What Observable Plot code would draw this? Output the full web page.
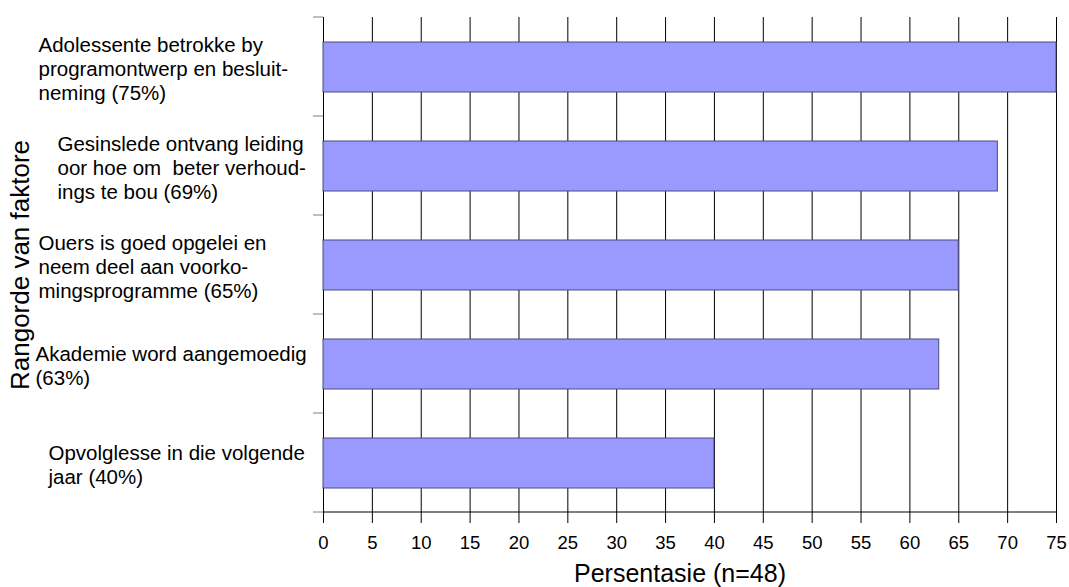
<!DOCTYPE html>
<html><head><meta charset="utf-8">
<script src="https://cdn.jsdelivr.net/npm/d3@7"></script>
<script src="https://cdn.jsdelivr.net/npm/@observablehq/plot@0.6"></script>
<style>body{margin:0;background:#fff} svg{display:block}</style>
</head><body><div id="chart"></div>
<script>
// ---- data ----
const categories = [
  "Adolessente betrokke by\nprogramontwerp en besluit-\nneming (75%)",
  "Gesinslede ontvang leiding\noor hoe om  beter verhoud-\nings te bou (69%)",
  "Ouers is goed opgelei en\nneem deel aan voorko-\nmingsprogramme (65%)",
  "Akademie word aangemoedig\n(63%)",
  "Opvolglesse in die volgende\njaar (40%)"
];
const values = [75, 69, 65, 63, 40];
const xTicks = [0, 5, 10, 15, 20, 25, 30, 35, 40, 45, 50, 55, 60, 65, 70, 75];
const xLabel = "Persentasie (n=48)";
const yLabel = "Rangorde van faktore";

// ---- layout ----
const W = 1069, H = 587;
const M = {top: 17, right: 13, bottom: 75, left: 323};
const labelLeft = [38, 57, 38, 35, 48]; // pixel x where each label block starts
const font = "'Liberation Sans', Arial, sans-serif";

const rows = categories.map((c, i) => ({cat: c, value: values[i]}));

const frameLines = (index, scales, vals, dims) => {
  const g = d3.create("svg:g");
  const n = categories.length;
  const top = dims.marginTop, bottom = dims.height - dims.marginBottom;
  const left = dims.marginLeft, right = dims.width - dims.marginRight;
  const step = (bottom - top) / n;
  for (let i = 0; i <= n; i++) {
    const yy = top + i * step;
    g.append("line").attr("x1", left - 10).attr("x2", left).attr("y1", yy).attr("y2", yy)
      .attr("stroke", "#808080").attr("stroke-width", 1);
  }
  g.append("line").attr("x1", left).attr("x2", right).attr("y1", bottom).attr("y2", bottom)
    .attr("stroke", "#000").attr("stroke-width", 1);
  return g.node();
};

const labelMarks = rows.map((r, i) => Plot.text([r], {
  y: "cat", text: "cat", frameAnchor: "left", textAnchor: "start",
  dx: labelLeft[i] - M.left, dy: 1, lineHeight: 1.15, fontSize: 20.5, fill: "#000"
}));

const chart = Plot.plot({
  width: W, height: H,
  marginTop: M.top, marginRight: M.right, marginBottom: M.bottom, marginLeft: M.left,
  style: {fontFamily: font, background: "#fff", color: "#000", overflow: "visible"},
  x: {domain: [0, 75], ticks: xTicks, label: null},
  y: {domain: categories, paddingInner: 0.5, paddingOuter: 0.25, axis: null},
  marks: [
    Plot.ruleX(xTicks, {stroke: "#000", strokeWidth: 1}),
    Plot.barX(rows, {y: "cat", x: "value", fill: "#9999ff", stroke: "#4a4a7a", strokeWidth: 1}),
    frameLines,
    Plot.axisX({ticks: xTicks, tickSize: 11, tickPadding: 12, fontSize: 18.5, label: null, stroke: "#000"}),
    ...labelMarks,
    Plot.text([xLabel], {frameAnchor: "bottom", textAnchor: "middle", dx: -10, dy: 61, fontSize: 25, fill: "#000", lineAnchor: "middle"}),
    Plot.text([yLabel], {frameAnchor: "left", textAnchor: "middle", dx: -303, rotate: -90, fontSize: 26, fill: "#000", lineAnchor: "middle"})
  ]
});
document.getElementById("chart").append(chart);
</script>
</body></html>
